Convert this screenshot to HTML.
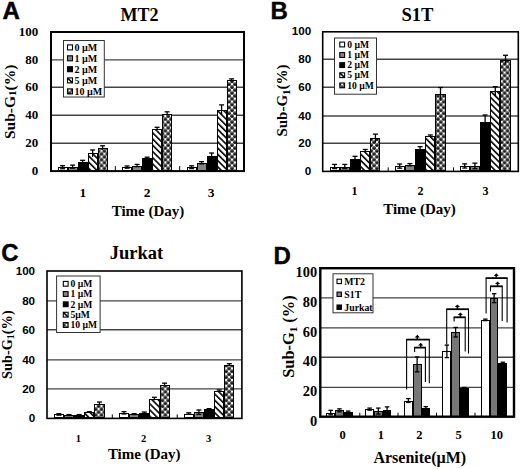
<!DOCTYPE html><html><head><meta charset="utf-8"><style>html,body{margin:0;padding:0;background:#fff;}svg{display:block;}</style></head><body>
<svg width="520" height="469" viewBox="0 0 520 469">
<defs>
<pattern id="hatch" patternUnits="userSpaceOnUse" width="4.4" height="4.4" patternTransform="rotate(-45)">
<rect width="4.4" height="4.4" fill="#fff"/><rect width="1.6" height="4.4" fill="#000"/></pattern>
<linearGradient id="ball" x1="0" y1="0" x2="0" y2="1"><stop offset="0" stop-color="#777"/><stop offset="0.45" stop-color="#333"/><stop offset="0.75" stop-color="#000"/><stop offset="1" stop-color="#111"/></linearGradient>
<pattern id="dots" patternUnits="userSpaceOnUse" width="5.8" height="5.8">
<rect width="5.8" height="5.8" fill="#fff"/>
<circle cx="0" cy="0" r="1.95" fill="url(#ball)"/><circle cx="5.8" cy="0" r="1.95" fill="url(#ball)"/>
<circle cx="0" cy="5.8" r="1.95" fill="url(#ball)"/><circle cx="5.8" cy="5.8" r="1.95" fill="url(#ball)"/>
<circle cx="2.9" cy="2.9" r="1.95" fill="url(#ball)"/>
</pattern>
<pattern id="hatchL" patternUnits="userSpaceOnUse" width="2.6" height="2.6" patternTransform="rotate(-45)">
<rect width="2.6" height="2.6" fill="#fff"/><rect width="1" height="2.6" fill="#000"/></pattern>
</defs>
<rect width="520" height="469" fill="#fff"/>
<line x1="51" y1="143.3" x2="244" y2="143.3" stroke="#444" stroke-width="1.4"/>
<line x1="51" y1="115.2" x2="244" y2="115.2" stroke="#444" stroke-width="1.4"/>
<line x1="51" y1="87.2" x2="244" y2="87.2" stroke="#444" stroke-width="1.4"/>
<line x1="51" y1="59.9" x2="244" y2="59.9" stroke="#444" stroke-width="1.4"/>
<rect x="63.5" y="40.5" width="40.8" height="56.5" fill="#fff" stroke="#333" stroke-width="1" />
<rect x="67.5" y="44.9" width="5" height="5" fill="#fff" stroke="#000" stroke-width="1.1" />
<text x="74.4" y="50.8" font-family='"Liberation Serif", serif' font-size="10" font-weight="bold" text-anchor="start" fill="#000" >0 µM</text>
<rect x="67.5" y="55.8" width="5" height="5" fill="#858585" stroke="#000" stroke-width="1.1" />
<text x="74.4" y="61.7" font-family='"Liberation Serif", serif' font-size="10" font-weight="bold" text-anchor="start" fill="#000" >1 µM</text>
<rect x="67.5" y="66.7" width="5" height="5" fill="#000" stroke="#000" stroke-width="1.1" />
<text x="74.4" y="72.6" font-family='"Liberation Serif", serif' font-size="10" font-weight="bold" text-anchor="start" fill="#000" >2 µM</text>
<rect x="67.5" y="77.9" width="5" height="5" fill="#fff" stroke="#000" stroke-width="1.1" />
<line x1="67.8" y1="78.2" x2="72.2" y2="82.6" stroke="#000" stroke-width="1.6"/>
<text x="74.4" y="83.8" font-family='"Liberation Serif", serif' font-size="10" font-weight="bold" text-anchor="start" fill="#000" >5 µM</text>
<rect x="67.5" y="88.9" width="5" height="5" fill="url(#dots)" stroke="#000" stroke-width="1.1" />
<text x="74.4" y="94.8" font-family='"Liberation Serif", serif' font-size="10" font-weight="bold" text-anchor="start" fill="#000" >10 µM</text>
<rect x="58.5" y="167.5" width="9" height="3" fill="#fff" stroke="#000" stroke-width="1" />
<line x1="62.6" y1="165.68" x2="62.6" y2="168.74" stroke="#000" stroke-width="1.3"/>
<line x1="60.1" y1="165.68" x2="65.1" y2="165.68" stroke="#000" stroke-width="1.3"/>
<line x1="60.1" y1="168.74" x2="65.1" y2="168.74" stroke="#000" stroke-width="1.3"/>
<rect x="68.5" y="167.5" width="9" height="3" fill="#858585" stroke="#000" stroke-width="1" />
<line x1="72.6" y1="165.12" x2="72.6" y2="168.18" stroke="#000" stroke-width="1.3"/>
<line x1="70.1" y1="165.12" x2="75.1" y2="165.12" stroke="#000" stroke-width="1.3"/>
<line x1="70.1" y1="168.18" x2="75.1" y2="168.18" stroke="#000" stroke-width="1.3"/>
<rect x="78.5" y="162.5" width="9" height="8" fill="#000" stroke="#000" stroke-width="1" />
<line x1="82.6" y1="160.32" x2="82.6" y2="163.1" stroke="#000" stroke-width="1.3"/>
<line x1="80.1" y1="160.32" x2="85.1" y2="160.32" stroke="#000" stroke-width="1.3"/>
<line x1="80.1" y1="163.1" x2="85.1" y2="163.1" stroke="#000" stroke-width="1.3"/>
<rect x="88.5" y="153.5" width="9" height="17" fill="url(#hatch)" stroke="#000" stroke-width="1" />
<line x1="92.6" y1="149.96" x2="92.6" y2="156.91" stroke="#000" stroke-width="1.3"/>
<line x1="90.1" y1="149.96" x2="95.1" y2="149.96" stroke="#000" stroke-width="1.3"/>
<rect x="98.5" y="148.5" width="9" height="22" fill="url(#dots)" stroke="#000" stroke-width="1" />
<line x1="102.6" y1="145.78" x2="102.6" y2="149.96" stroke="#000" stroke-width="1.3"/>
<line x1="100.1" y1="145.78" x2="105.1" y2="145.78" stroke="#000" stroke-width="1.3"/>
<rect x="122.5" y="167.5" width="9" height="3" fill="#fff" stroke="#000" stroke-width="1" />
<line x1="127.1" y1="165.95" x2="127.1" y2="168.18" stroke="#000" stroke-width="1.3"/>
<line x1="124.6" y1="165.95" x2="129.6" y2="165.95" stroke="#000" stroke-width="1.3"/>
<line x1="124.6" y1="168.18" x2="129.6" y2="168.18" stroke="#000" stroke-width="1.3"/>
<rect x="132.5" y="166.5" width="9" height="4" fill="#858585" stroke="#000" stroke-width="1" />
<line x1="137.1" y1="164.42" x2="137.1" y2="166.65" stroke="#000" stroke-width="1.3"/>
<line x1="134.6" y1="164.42" x2="139.6" y2="164.42" stroke="#000" stroke-width="1.3"/>
<line x1="134.6" y1="166.65" x2="139.6" y2="166.65" stroke="#000" stroke-width="1.3"/>
<rect x="142.5" y="158.5" width="9" height="12" fill="#000" stroke="#000" stroke-width="1" />
<line x1="147.1" y1="157.19" x2="147.1" y2="159.42" stroke="#000" stroke-width="1.3"/>
<line x1="144.6" y1="157.19" x2="149.6" y2="157.19" stroke="#000" stroke-width="1.3"/>
<line x1="144.6" y1="159.42" x2="149.6" y2="159.42" stroke="#000" stroke-width="1.3"/>
<rect x="152.5" y="129.5" width="9" height="41" fill="url(#hatch)" stroke="#000" stroke-width="1" />
<line x1="157.1" y1="127.28" x2="157.1" y2="130.07" stroke="#000" stroke-width="1.3"/>
<line x1="154.6" y1="127.28" x2="159.6" y2="127.28" stroke="#000" stroke-width="1.3"/>
<rect x="162.5" y="114.5" width="9" height="56" fill="url(#dots)" stroke="#000" stroke-width="1" />
<line x1="167.1" y1="111.84" x2="167.1" y2="115.18" stroke="#000" stroke-width="1.3"/>
<line x1="164.6" y1="111.84" x2="169.6" y2="111.84" stroke="#000" stroke-width="1.3"/>
<rect x="187.5" y="167.5" width="9" height="3" fill="#fff" stroke="#000" stroke-width="1" />
<line x1="191.6" y1="165.81" x2="191.6" y2="168.6" stroke="#000" stroke-width="1.3"/>
<line x1="189.1" y1="165.81" x2="194.1" y2="165.81" stroke="#000" stroke-width="1.3"/>
<line x1="189.1" y1="168.6" x2="194.1" y2="168.6" stroke="#000" stroke-width="1.3"/>
<rect x="197.5" y="163.5" width="9" height="7" fill="#858585" stroke="#000" stroke-width="1" />
<line x1="201.6" y1="161.64" x2="201.6" y2="163.87" stroke="#000" stroke-width="1.3"/>
<line x1="199.1" y1="161.64" x2="204.1" y2="161.64" stroke="#000" stroke-width="1.3"/>
<line x1="199.1" y1="163.87" x2="204.1" y2="163.87" stroke="#000" stroke-width="1.3"/>
<rect x="207.5" y="156.5" width="9" height="14" fill="#000" stroke="#000" stroke-width="1" />
<line x1="211.6" y1="153.02" x2="211.6" y2="159.14" stroke="#000" stroke-width="1.3"/>
<line x1="209.1" y1="153.02" x2="214.1" y2="153.02" stroke="#000" stroke-width="1.3"/>
<line x1="209.1" y1="159.14" x2="214.1" y2="159.14" stroke="#000" stroke-width="1.3"/>
<rect x="217.5" y="110.5" width="9" height="60" fill="url(#hatch)" stroke="#000" stroke-width="1" />
<line x1="221.6" y1="104.89" x2="221.6" y2="114.63" stroke="#000" stroke-width="1.3"/>
<line x1="219.1" y1="104.89" x2="224.1" y2="104.89" stroke="#000" stroke-width="1.3"/>
<rect x="227.5" y="80.5" width="9" height="90" fill="url(#dots)" stroke="#000" stroke-width="1" />
<line x1="231.6" y1="78.88" x2="231.6" y2="81.1" stroke="#000" stroke-width="1.3"/>
<line x1="229.1" y1="78.88" x2="234.1" y2="78.88" stroke="#000" stroke-width="1.3"/>
<line x1="115.3" y1="171.1" x2="115.3" y2="166.1" stroke="#000" stroke-width="1"/>
<line x1="179.7" y1="171.1" x2="179.7" y2="166.1" stroke="#000" stroke-width="1"/>
<rect x="51" y="32" width="193" height="139.1" fill="none" stroke="#000" stroke-width="2"/>
<text transform="translate(38.2,175.2) scale(1.0,1)" font-family='"Liberation Serif", serif' font-size="13" font-weight="bold" text-anchor="end">0</text>
<text transform="translate(38.2,147.4) scale(1.0,1)" font-family='"Liberation Serif", serif' font-size="13" font-weight="bold" text-anchor="end">20</text>
<text transform="translate(38.2,119.3) scale(1.0,1)" font-family='"Liberation Serif", serif' font-size="13" font-weight="bold" text-anchor="end">40</text>
<text transform="translate(38.2,91.3) scale(1.0,1)" font-family='"Liberation Serif", serif' font-size="13" font-weight="bold" text-anchor="end">60</text>
<text transform="translate(38.2,64) scale(1.0,1)" font-family='"Liberation Serif", serif' font-size="13" font-weight="bold" text-anchor="end">80</text>
<text transform="translate(38.2,36.1) scale(1.0,1)" font-family='"Liberation Serif", serif' font-size="13" font-weight="bold" text-anchor="end">100</text>
<text x="82.9" y="196.7" font-family='"Liberation Serif", serif' font-size="13.5" font-weight="bold" text-anchor="middle" fill="#000" >1</text>
<text x="147" y="196.7" font-family='"Liberation Serif", serif' font-size="13.5" font-weight="bold" text-anchor="middle" fill="#000" >2</text>
<text x="211.2" y="196.7" font-family='"Liberation Serif", serif' font-size="13.5" font-weight="bold" text-anchor="middle" fill="#000" >3</text>
<text x="2.5" y="18.8" font-family='"Liberation Sans", sans-serif' font-size="24" font-weight="bold" text-anchor="start" fill="#000" stroke="#000" stroke-width="0.5">A</text>
<text x="139.4" y="20.5" font-family='"Liberation Serif", serif' font-size="18" font-weight="bold" text-anchor="middle" fill="#000" >MT2</text>
<text x="148" y="215.6" font-family='"Liberation Serif", serif' font-size="15" font-weight="bold" text-anchor="middle" fill="#000" >Time (Day)</text>
<text transform="translate(15.1,101.9) rotate(-90)" font-family='"Liberation Serif", serif' font-size="15.5" font-weight="bold" text-anchor="middle">Sub-G<tspan font-size="11" dy="1">1</tspan><tspan dy="-1">(%)</tspan></text>
<line x1="322.7" y1="143.2" x2="518.3" y2="143.2" stroke="#444" stroke-width="1.4"/>
<line x1="322.7" y1="116" x2="518.3" y2="116" stroke="#444" stroke-width="1.4"/>
<line x1="322.7" y1="87.2" x2="518.3" y2="87.2" stroke="#444" stroke-width="1.4"/>
<line x1="322.7" y1="59.2" x2="518.3" y2="59.2" stroke="#444" stroke-width="1.4"/>
<rect x="334.5" y="38" width="42" height="56.2" fill="#fff" stroke="#333" stroke-width="1" />
<rect x="339.8" y="42.1" width="4.8" height="4.8" fill="#fff" stroke="#000" stroke-width="1.1" />
<text x="347.3" y="47.76" font-family='"Liberation Serif", serif' font-size="9.6" font-weight="bold" text-anchor="start" fill="#000" >0 µM</text>
<rect x="339.8" y="52.6" width="4.8" height="4.8" fill="#858585" stroke="#000" stroke-width="1.1" />
<text x="347.3" y="58.26" font-family='"Liberation Serif", serif' font-size="9.6" font-weight="bold" text-anchor="start" fill="#000" >1 µM</text>
<rect x="339.8" y="62.7" width="4.8" height="4.8" fill="#000" stroke="#000" stroke-width="1.1" />
<text x="347.3" y="68.36" font-family='"Liberation Serif", serif' font-size="9.6" font-weight="bold" text-anchor="start" fill="#000" >2 µM</text>
<rect x="339.8" y="72.8" width="4.8" height="4.8" fill="#fff" stroke="#000" stroke-width="1.1" />
<line x1="340.1" y1="73.1" x2="344.3" y2="77.3" stroke="#000" stroke-width="1.6"/>
<text x="347.3" y="78.46" font-family='"Liberation Serif", serif' font-size="9.6" font-weight="bold" text-anchor="start" fill="#000" >5 µM</text>
<rect x="339.8" y="83" width="4.8" height="4.8" fill="url(#dots)" stroke="#000" stroke-width="1.1" />
<text x="347.3" y="88.66" font-family='"Liberation Serif", serif' font-size="9.6" font-weight="bold" text-anchor="start" fill="#000" >10 µM</text>
<rect x="330.5" y="167.5" width="9" height="3" fill="#fff" stroke="#000" stroke-width="1" />
<line x1="334.6" y1="164.42" x2="334.6" y2="168.61" stroke="#000" stroke-width="1.3"/>
<line x1="332.1" y1="164.42" x2="337.1" y2="164.42" stroke="#000" stroke-width="1.3"/>
<line x1="332.1" y1="168.61" x2="337.1" y2="168.61" stroke="#000" stroke-width="1.3"/>
<rect x="340.5" y="167.5" width="9" height="3" fill="#858585" stroke="#000" stroke-width="1" />
<line x1="344.8" y1="164.42" x2="344.8" y2="168.61" stroke="#000" stroke-width="1.3"/>
<line x1="342.3" y1="164.42" x2="347.3" y2="164.42" stroke="#000" stroke-width="1.3"/>
<line x1="342.3" y1="168.61" x2="347.3" y2="168.61" stroke="#000" stroke-width="1.3"/>
<rect x="350.5" y="159.5" width="9" height="11" fill="#000" stroke="#000" stroke-width="1" />
<line x1="355" y1="156.32" x2="355" y2="161.91" stroke="#000" stroke-width="1.3"/>
<line x1="352.5" y1="156.32" x2="357.5" y2="156.32" stroke="#000" stroke-width="1.3"/>
<line x1="352.5" y1="161.91" x2="357.5" y2="161.91" stroke="#000" stroke-width="1.3"/>
<rect x="360.5" y="151.5" width="9" height="19" fill="url(#hatch)" stroke="#000" stroke-width="1" />
<line x1="365.2" y1="149.48" x2="365.2" y2="152.27" stroke="#000" stroke-width="1.3"/>
<line x1="362.7" y1="149.48" x2="367.7" y2="149.48" stroke="#000" stroke-width="1.3"/>
<rect x="370.5" y="138.5" width="9" height="32" fill="url(#dots)" stroke="#000" stroke-width="1" />
<line x1="375.4" y1="134.13" x2="375.4" y2="142.5" stroke="#000" stroke-width="1.3"/>
<line x1="372.9" y1="134.13" x2="377.9" y2="134.13" stroke="#000" stroke-width="1.3"/>
<rect x="395.5" y="166.5" width="9" height="4" fill="#fff" stroke="#000" stroke-width="1" />
<line x1="399.7" y1="164" x2="399.7" y2="168.19" stroke="#000" stroke-width="1.3"/>
<line x1="397.2" y1="164" x2="402.2" y2="164" stroke="#000" stroke-width="1.3"/>
<line x1="397.2" y1="168.19" x2="402.2" y2="168.19" stroke="#000" stroke-width="1.3"/>
<rect x="405.5" y="165.5" width="9" height="5" fill="#858585" stroke="#000" stroke-width="1" />
<line x1="409.9" y1="163.58" x2="409.9" y2="165.82" stroke="#000" stroke-width="1.3"/>
<line x1="407.4" y1="163.58" x2="412.4" y2="163.58" stroke="#000" stroke-width="1.3"/>
<line x1="407.4" y1="165.82" x2="412.4" y2="165.82" stroke="#000" stroke-width="1.3"/>
<rect x="415.5" y="149.5" width="9" height="21" fill="#000" stroke="#000" stroke-width="1" />
<line x1="420.1" y1="146.69" x2="420.1" y2="150.88" stroke="#000" stroke-width="1.3"/>
<line x1="417.6" y1="146.69" x2="422.6" y2="146.69" stroke="#000" stroke-width="1.3"/>
<line x1="417.6" y1="150.88" x2="422.6" y2="150.88" stroke="#000" stroke-width="1.3"/>
<rect x="425.5" y="136.5" width="9" height="34" fill="url(#hatch)" stroke="#000" stroke-width="1" />
<line x1="430.3" y1="134.96" x2="430.3" y2="136.36" stroke="#000" stroke-width="1.3"/>
<line x1="427.8" y1="134.96" x2="432.8" y2="134.96" stroke="#000" stroke-width="1.3"/>
<rect x="435.5" y="94.5" width="10" height="76" fill="url(#dots)" stroke="#000" stroke-width="1" />
<line x1="440.5" y1="87.5" x2="440.5" y2="100.62" stroke="#000" stroke-width="1.3"/>
<line x1="438" y1="87.5" x2="443" y2="87.5" stroke="#000" stroke-width="1.3"/>
<rect x="460.5" y="166.5" width="9" height="4" fill="#fff" stroke="#000" stroke-width="1" />
<line x1="464.7" y1="163.86" x2="464.7" y2="168.05" stroke="#000" stroke-width="1.3"/>
<line x1="462.2" y1="163.86" x2="467.2" y2="163.86" stroke="#000" stroke-width="1.3"/>
<line x1="462.2" y1="168.05" x2="467.2" y2="168.05" stroke="#000" stroke-width="1.3"/>
<rect x="470.5" y="166.5" width="9" height="4" fill="#858585" stroke="#000" stroke-width="1" />
<line x1="474.9" y1="163.16" x2="474.9" y2="168.75" stroke="#000" stroke-width="1.3"/>
<line x1="472.4" y1="163.16" x2="477.4" y2="163.16" stroke="#000" stroke-width="1.3"/>
<line x1="472.4" y1="168.75" x2="477.4" y2="168.75" stroke="#000" stroke-width="1.3"/>
<rect x="480.5" y="122.5" width="9" height="48" fill="#000" stroke="#000" stroke-width="1" />
<line x1="485.1" y1="115" x2="485.1" y2="129.52" stroke="#000" stroke-width="1.3"/>
<line x1="482.6" y1="115" x2="487.6" y2="115" stroke="#000" stroke-width="1.3"/>
<line x1="482.6" y1="129.52" x2="487.6" y2="129.52" stroke="#000" stroke-width="1.3"/>
<rect x="490.5" y="91.5" width="9" height="79" fill="url(#hatch)" stroke="#000" stroke-width="1" />
<line x1="495.3" y1="86.66" x2="495.3" y2="96.16" stroke="#000" stroke-width="1.3"/>
<line x1="492.8" y1="86.66" x2="497.8" y2="86.66" stroke="#000" stroke-width="1.3"/>
<rect x="500.5" y="60.5" width="10" height="110" fill="url(#dots)" stroke="#000" stroke-width="1" />
<line x1="505.5" y1="55.25" x2="505.5" y2="64.19" stroke="#000" stroke-width="1.3"/>
<line x1="503" y1="55.25" x2="508" y2="55.25" stroke="#000" stroke-width="1.3"/>
<line x1="388.2" y1="171.4" x2="388.2" y2="167.4" stroke="#000" stroke-width="1"/>
<line x1="453.5" y1="171.4" x2="453.5" y2="167.4" stroke="#000" stroke-width="1"/>
<rect x="322.7" y="31.8" width="195.6" height="139.6" fill="none" stroke="#000" stroke-width="1.6"/>
<text transform="translate(311.2,174.9) scale(1.1,1)" font-family='"Liberation Sans", sans-serif' font-size="10.6" font-weight="bold" text-anchor="end">0</text>
<text transform="translate(311.2,146.7) scale(1.1,1)" font-family='"Liberation Sans", sans-serif' font-size="10.6" font-weight="bold" text-anchor="end">20</text>
<text transform="translate(311.2,119.5) scale(1.1,1)" font-family='"Liberation Sans", sans-serif' font-size="10.6" font-weight="bold" text-anchor="end">40</text>
<text transform="translate(311.2,90.7) scale(1.1,1)" font-family='"Liberation Sans", sans-serif' font-size="10.6" font-weight="bold" text-anchor="end">60</text>
<text transform="translate(311.2,62.7) scale(1.1,1)" font-family='"Liberation Sans", sans-serif' font-size="10.6" font-weight="bold" text-anchor="end">80</text>
<text transform="translate(311.2,35.3) scale(1.1,1)" font-family='"Liberation Sans", sans-serif' font-size="10.6" font-weight="bold" text-anchor="end">100</text>
<text x="354.6" y="195.3" font-family='"Liberation Serif", serif' font-size="12" font-weight="bold" text-anchor="middle" fill="#000" >1</text>
<text x="420.6" y="195.3" font-family='"Liberation Serif", serif' font-size="12" font-weight="bold" text-anchor="middle" fill="#000" >2</text>
<text x="485.6" y="195.3" font-family='"Liberation Serif", serif' font-size="12" font-weight="bold" text-anchor="middle" fill="#000" >3</text>
<text x="270.4" y="18.8" font-family='"Liberation Sans", sans-serif' font-size="24" font-weight="bold" text-anchor="start" fill="#000" stroke="#000" stroke-width="0.4">B</text>
<text x="417.4" y="20.8" font-family='"Liberation Serif", serif' font-size="18.6" font-weight="bold" text-anchor="middle" fill="#000" >S1T</text>
<text x="419.5" y="214" font-family='"Liberation Serif", serif' font-size="15" font-weight="bold" text-anchor="middle" fill="#000" >Time (Day)</text>
<text transform="translate(287,100.5) rotate(-90)" font-family='"Liberation Serif", serif' font-size="15" font-weight="bold" text-anchor="middle">Sub-G<tspan font-size="11" dy="2.5">1</tspan><tspan dy="-2.5">(%)</tspan></text>
<line x1="47" y1="388.9" x2="241.9" y2="388.9" stroke="#444" stroke-width="1.4"/>
<line x1="47" y1="359.9" x2="241.9" y2="359.9" stroke="#444" stroke-width="1.4"/>
<line x1="47" y1="329.8" x2="241.9" y2="329.8" stroke="#444" stroke-width="1.4"/>
<line x1="47" y1="300.9" x2="241.9" y2="300.9" stroke="#444" stroke-width="1.4"/>
<rect x="56.6" y="276" width="43.5" height="56.5" fill="#fff" stroke="#333" stroke-width="1" />
<rect x="63.3" y="281.4" width="4.8" height="4.8" fill="#fff" stroke="#000" stroke-width="1.1" />
<text x="70.5" y="287.06" font-family='"Liberation Serif", serif' font-size="9.6" font-weight="bold" text-anchor="start" fill="#000" >0 µM</text>
<rect x="63.3" y="291.6" width="4.8" height="4.8" fill="#858585" stroke="#000" stroke-width="1.1" />
<text x="70.5" y="297.26" font-family='"Liberation Serif", serif' font-size="9.6" font-weight="bold" text-anchor="start" fill="#000" >1 µM</text>
<rect x="63.3" y="301.9" width="4.8" height="4.8" fill="#000" stroke="#000" stroke-width="1.1" />
<text x="70.5" y="307.56" font-family='"Liberation Serif", serif' font-size="9.6" font-weight="bold" text-anchor="start" fill="#000" >2 µM</text>
<rect x="63.3" y="312.3" width="4.8" height="4.8" fill="#fff" stroke="#000" stroke-width="1.1" />
<line x1="63.6" y1="312.6" x2="67.8" y2="316.8" stroke="#000" stroke-width="1.6"/>
<text x="70.5" y="317.96" font-family='"Liberation Serif", serif' font-size="9.6" font-weight="bold" text-anchor="start" fill="#000" >5µM</text>
<rect x="63.3" y="322.6" width="4.8" height="4.8" fill="url(#dots)" stroke="#000" stroke-width="1.1" />
<text x="70.5" y="328.26" font-family='"Liberation Serif", serif' font-size="9.6" font-weight="bold" text-anchor="start" fill="#000" >10 µM</text>
<rect x="54.5" y="414.5" width="9" height="3" fill="#fff" stroke="#000" stroke-width="1" />
<line x1="58.88" y1="413.68" x2="58.88" y2="415.16" stroke="#000" stroke-width="1.3"/>
<line x1="56.38" y1="413.68" x2="61.38" y2="413.68" stroke="#000" stroke-width="1.3"/>
<line x1="56.38" y1="415.16" x2="61.38" y2="415.16" stroke="#000" stroke-width="1.3"/>
<rect x="64.5" y="415.5" width="9" height="2" fill="#858585" stroke="#000" stroke-width="1" />
<line x1="69.02" y1="414.57" x2="69.02" y2="415.45" stroke="#000" stroke-width="1.3"/>
<line x1="66.52" y1="414.57" x2="71.52" y2="414.57" stroke="#000" stroke-width="1.3"/>
<line x1="66.52" y1="415.45" x2="71.52" y2="415.45" stroke="#000" stroke-width="1.3"/>
<rect x="74.5" y="415.5" width="9" height="2" fill="#000" stroke="#000" stroke-width="1" />
<line x1="79.17" y1="414.57" x2="79.17" y2="415.45" stroke="#000" stroke-width="1.3"/>
<line x1="76.67" y1="414.57" x2="81.67" y2="414.57" stroke="#000" stroke-width="1.3"/>
<line x1="76.67" y1="415.45" x2="81.67" y2="415.45" stroke="#000" stroke-width="1.3"/>
<rect x="84.5" y="412.5" width="9" height="5" fill="url(#hatch)" stroke="#000" stroke-width="1" />
<line x1="89.33" y1="411.62" x2="89.33" y2="413.09" stroke="#000" stroke-width="1.3"/>
<line x1="86.83" y1="411.62" x2="91.83" y2="411.62" stroke="#000" stroke-width="1.3"/>
<rect x="94.5" y="404.5" width="10" height="13" fill="url(#dots)" stroke="#000" stroke-width="1" />
<line x1="99.48" y1="402.04" x2="99.48" y2="404.99" stroke="#000" stroke-width="1.3"/>
<line x1="96.98" y1="402.04" x2="101.98" y2="402.04" stroke="#000" stroke-width="1.3"/>
<rect x="119.5" y="413.5" width="9" height="4" fill="#fff" stroke="#000" stroke-width="1" />
<line x1="123.98" y1="411.62" x2="123.98" y2="413.98" stroke="#000" stroke-width="1.3"/>
<line x1="121.48" y1="411.62" x2="126.48" y2="411.62" stroke="#000" stroke-width="1.3"/>
<line x1="121.48" y1="413.98" x2="126.48" y2="413.98" stroke="#000" stroke-width="1.3"/>
<rect x="129.5" y="414.5" width="9" height="3" fill="#858585" stroke="#000" stroke-width="1" />
<line x1="134.12" y1="413.68" x2="134.12" y2="414.57" stroke="#000" stroke-width="1.3"/>
<line x1="131.62" y1="413.68" x2="136.62" y2="413.68" stroke="#000" stroke-width="1.3"/>
<line x1="131.62" y1="414.57" x2="136.62" y2="414.57" stroke="#000" stroke-width="1.3"/>
<rect x="139.5" y="413.5" width="9" height="4" fill="#000" stroke="#000" stroke-width="1" />
<line x1="144.28" y1="412.06" x2="144.28" y2="413.54" stroke="#000" stroke-width="1.3"/>
<line x1="141.78" y1="412.06" x2="146.78" y2="412.06" stroke="#000" stroke-width="1.3"/>
<line x1="141.78" y1="413.54" x2="146.78" y2="413.54" stroke="#000" stroke-width="1.3"/>
<rect x="149.5" y="399.5" width="10" height="18" fill="url(#hatch)" stroke="#000" stroke-width="1" />
<line x1="154.43" y1="397.32" x2="154.43" y2="400.27" stroke="#000" stroke-width="1.3"/>
<line x1="151.93" y1="397.32" x2="156.93" y2="397.32" stroke="#000" stroke-width="1.3"/>
<rect x="160.5" y="385.5" width="9" height="32" fill="url(#dots)" stroke="#000" stroke-width="1" />
<line x1="164.57" y1="383.17" x2="164.57" y2="386.12" stroke="#000" stroke-width="1.3"/>
<line x1="162.07" y1="383.17" x2="167.07" y2="383.17" stroke="#000" stroke-width="1.3"/>
<rect x="184.5" y="414.5" width="9" height="3" fill="#fff" stroke="#000" stroke-width="1" />
<line x1="188.77" y1="412.8" x2="188.77" y2="414.27" stroke="#000" stroke-width="1.3"/>
<line x1="186.27" y1="412.8" x2="191.27" y2="412.8" stroke="#000" stroke-width="1.3"/>
<line x1="186.27" y1="414.27" x2="191.27" y2="414.27" stroke="#000" stroke-width="1.3"/>
<rect x="194.5" y="412.5" width="9" height="5" fill="#858585" stroke="#000" stroke-width="1" />
<line x1="198.92" y1="410" x2="198.92" y2="414.42" stroke="#000" stroke-width="1.3"/>
<line x1="196.42" y1="410" x2="201.42" y2="410" stroke="#000" stroke-width="1.3"/>
<line x1="196.42" y1="414.42" x2="201.42" y2="414.42" stroke="#000" stroke-width="1.3"/>
<rect x="204.5" y="409.5" width="9" height="8" fill="#000" stroke="#000" stroke-width="1" />
<line x1="209.07" y1="408.67" x2="209.07" y2="410.15" stroke="#000" stroke-width="1.3"/>
<line x1="206.57" y1="408.67" x2="211.57" y2="408.67" stroke="#000" stroke-width="1.3"/>
<line x1="206.57" y1="410.15" x2="211.57" y2="410.15" stroke="#000" stroke-width="1.3"/>
<rect x="214.5" y="391.5" width="9" height="26" fill="url(#hatch)" stroke="#000" stroke-width="1" />
<line x1="219.22" y1="389.95" x2="219.22" y2="392.02" stroke="#000" stroke-width="1.3"/>
<line x1="216.72" y1="389.95" x2="221.72" y2="389.95" stroke="#000" stroke-width="1.3"/>
<rect x="224.5" y="365.5" width="9" height="52" fill="url(#dots)" stroke="#000" stroke-width="1" />
<line x1="229.37" y1="363.71" x2="229.37" y2="365.78" stroke="#000" stroke-width="1.3"/>
<line x1="226.87" y1="363.71" x2="231.87" y2="363.71" stroke="#000" stroke-width="1.3"/>
<line x1="112.3" y1="418.4" x2="112.3" y2="414.4" stroke="#000" stroke-width="1"/>
<line x1="177.2" y1="418.4" x2="177.2" y2="414.4" stroke="#000" stroke-width="1"/>
<rect x="47" y="271" width="194.9" height="147.4" fill="none" stroke="#000" stroke-width="1.6"/>
<text transform="translate(35.1,422.2) scale(1.1,1)" font-family='"Liberation Sans", sans-serif' font-size="10.6" font-weight="bold" text-anchor="end">0</text>
<text transform="translate(35.1,392.7) scale(1.1,1)" font-family='"Liberation Sans", sans-serif' font-size="10.6" font-weight="bold" text-anchor="end">20</text>
<text transform="translate(35.1,363.7) scale(1.1,1)" font-family='"Liberation Sans", sans-serif' font-size="10.6" font-weight="bold" text-anchor="end">40</text>
<text transform="translate(35.1,333.6) scale(1.1,1)" font-family='"Liberation Sans", sans-serif' font-size="10.6" font-weight="bold" text-anchor="end">60</text>
<text transform="translate(35.1,304.7) scale(1.1,1)" font-family='"Liberation Sans", sans-serif' font-size="10.6" font-weight="bold" text-anchor="end">80</text>
<text transform="translate(35.1,274.8) scale(1.1,1)" font-family='"Liberation Sans", sans-serif' font-size="10.6" font-weight="bold" text-anchor="end">100</text>
<text x="78.3" y="441.9" font-family='"Liberation Serif", serif' font-size="10.5" font-weight="bold" text-anchor="middle" fill="#000" >1</text>
<text x="143.6" y="441.9" font-family='"Liberation Serif", serif' font-size="10.5" font-weight="bold" text-anchor="middle" fill="#000" >2</text>
<text x="208.7" y="441.9" font-family='"Liberation Serif", serif' font-size="10.5" font-weight="bold" text-anchor="middle" fill="#000" >3</text>
<text x="1.3" y="261.2" font-family='"Liberation Sans", sans-serif' font-size="24" font-weight="bold" text-anchor="start" fill="#000" stroke="#000" stroke-width="0.4">C</text>
<text x="136.5" y="259.3" font-family='"Liberation Serif", serif' font-size="18.5" font-weight="bold" text-anchor="middle" fill="#000" >Jurkat</text>
<text x="144.2" y="458.7" font-family='"Liberation Serif", serif' font-size="15" font-weight="bold" text-anchor="middle" fill="#000" >Time (Day)</text>
<text transform="translate(11.8,344.6) rotate(-90)" font-family='"Liberation Serif", serif' font-size="14.3" font-weight="bold" text-anchor="middle">Sub-G<tspan font-size="10" dy="2.5">1</tspan><tspan dy="-2.5">(%)</tspan></text>
<line x1="320.3" y1="387.4" x2="514" y2="387.4" stroke="#444" stroke-width="1.4"/>
<line x1="320.3" y1="357.2" x2="514" y2="357.2" stroke="#444" stroke-width="1.4"/>
<line x1="320.3" y1="327.9" x2="514" y2="327.9" stroke="#444" stroke-width="1.4"/>
<line x1="320.3" y1="297.9" x2="514" y2="297.9" stroke="#444" stroke-width="1.4"/>
<rect x="333" y="273.8" width="40" height="39" fill="#fff" stroke="#333" stroke-width="1" />
<rect x="337" y="279.2" width="4.4" height="4.4" fill="#fff" stroke="#000" stroke-width="1.1" />
<text x="344.3" y="284.73" font-family='"Liberation Serif", serif' font-size="9.8" font-weight="bold" text-anchor="start" fill="#000" >MT2</text>
<rect x="337" y="292.1" width="4.4" height="4.4" fill="#858585" stroke="#000" stroke-width="1.1" />
<text x="344.3" y="297.63" font-family='"Liberation Serif", serif' font-size="9.8" font-weight="bold" text-anchor="start" fill="#000" >S1T</text>
<rect x="337" y="305" width="4.4" height="4.4" fill="#000" stroke="#000" stroke-width="1.1" />
<text x="344.3" y="310.53" font-family='"Liberation Serif", serif' font-size="9.8" font-weight="bold" text-anchor="start" fill="#000" >Jurkat</text>
<rect x="326.5" y="413.5" width="8" height="3" fill="#fff" stroke="#000" stroke-width="1" />
<line x1="330.68" y1="410.31" x2="330.68" y2="414.77" stroke="#000" stroke-width="1.3"/>
<line x1="328.43" y1="410.31" x2="332.93" y2="410.31" stroke="#000" stroke-width="1.3"/>
<line x1="328.43" y1="414.77" x2="332.93" y2="414.77" stroke="#000" stroke-width="1.3"/>
<rect x="335.5" y="410.5" width="8" height="6" fill="#777" stroke="#000" stroke-width="1" />
<line x1="339.43" y1="408.83" x2="339.43" y2="411.8" stroke="#000" stroke-width="1.3"/>
<line x1="337.18" y1="408.83" x2="341.68" y2="408.83" stroke="#000" stroke-width="1.3"/>
<line x1="337.18" y1="411.8" x2="341.68" y2="411.8" stroke="#000" stroke-width="1.3"/>
<rect x="344.5" y="412.5" width="8" height="4" fill="#000" stroke="#000" stroke-width="1" />
<line x1="348.18" y1="411.06" x2="348.18" y2="412.54" stroke="#000" stroke-width="1.3"/>
<line x1="345.93" y1="411.06" x2="350.43" y2="411.06" stroke="#000" stroke-width="1.3"/>
<line x1="345.93" y1="412.54" x2="350.43" y2="412.54" stroke="#000" stroke-width="1.3"/>
<rect x="365.5" y="409.5" width="8" height="7" fill="#fff" stroke="#000" stroke-width="1" />
<line x1="369.57" y1="408.09" x2="369.57" y2="410.17" stroke="#000" stroke-width="1.3"/>
<line x1="367.32" y1="408.09" x2="371.82" y2="408.09" stroke="#000" stroke-width="1.3"/>
<line x1="367.32" y1="410.17" x2="371.82" y2="410.17" stroke="#000" stroke-width="1.3"/>
<rect x="374.5" y="411.5" width="8" height="5" fill="#777" stroke="#000" stroke-width="1" />
<line x1="378.32" y1="408.09" x2="378.32" y2="414.03" stroke="#000" stroke-width="1.3"/>
<line x1="376.07" y1="408.09" x2="380.57" y2="408.09" stroke="#000" stroke-width="1.3"/>
<line x1="376.07" y1="414.03" x2="380.57" y2="414.03" stroke="#000" stroke-width="1.3"/>
<rect x="383.5" y="410.5" width="7" height="6" fill="#000" stroke="#000" stroke-width="1" />
<line x1="387.07" y1="406.9" x2="387.07" y2="412.84" stroke="#000" stroke-width="1.3"/>
<line x1="384.82" y1="406.9" x2="389.32" y2="406.9" stroke="#000" stroke-width="1.3"/>
<line x1="384.82" y1="412.84" x2="389.32" y2="412.84" stroke="#000" stroke-width="1.3"/>
<rect x="404.5" y="401.5" width="8" height="15" fill="#fff" stroke="#000" stroke-width="1" />
<line x1="408.38" y1="398.58" x2="408.38" y2="402.44" stroke="#000" stroke-width="1.3"/>
<line x1="406.12" y1="398.58" x2="410.62" y2="398.58" stroke="#000" stroke-width="1.3"/>
<line x1="406.12" y1="402.44" x2="410.62" y2="402.44" stroke="#000" stroke-width="1.3"/>
<rect x="413.5" y="364.5" width="8" height="52" fill="#777" stroke="#000" stroke-width="1" />
<line x1="417.12" y1="357" x2="417.12" y2="371.85" stroke="#000" stroke-width="1.3"/>
<line x1="414.88" y1="357" x2="419.38" y2="357" stroke="#000" stroke-width="1.3"/>
<line x1="414.88" y1="371.85" x2="419.38" y2="371.85" stroke="#000" stroke-width="1.3"/>
<rect x="422.5" y="408.5" width="7" height="8" fill="#000" stroke="#000" stroke-width="1" />
<line x1="425.88" y1="406.6" x2="425.88" y2="410.17" stroke="#000" stroke-width="1.3"/>
<line x1="423.62" y1="406.6" x2="428.12" y2="406.6" stroke="#000" stroke-width="1.3"/>
<line x1="423.62" y1="410.17" x2="428.12" y2="410.17" stroke="#000" stroke-width="1.3"/>
<rect x="442.5" y="351.5" width="8" height="65" fill="#fff" stroke="#000" stroke-width="1" />
<line x1="446.88" y1="345.12" x2="446.88" y2="357.6" stroke="#000" stroke-width="1.3"/>
<line x1="444.62" y1="345.12" x2="449.12" y2="345.12" stroke="#000" stroke-width="1.3"/>
<line x1="444.62" y1="357.6" x2="449.12" y2="357.6" stroke="#000" stroke-width="1.3"/>
<rect x="451.5" y="332.5" width="8" height="84" fill="#777" stroke="#000" stroke-width="1" />
<line x1="455.62" y1="327.45" x2="455.62" y2="336.96" stroke="#000" stroke-width="1.3"/>
<line x1="453.38" y1="327.45" x2="457.88" y2="327.45" stroke="#000" stroke-width="1.3"/>
<line x1="453.38" y1="336.96" x2="457.88" y2="336.96" stroke="#000" stroke-width="1.3"/>
<rect x="460.5" y="388.5" width="8" height="28" fill="#000" stroke="#000" stroke-width="1" />
<line x1="464.38" y1="387.45" x2="464.38" y2="388.93" stroke="#000" stroke-width="1.3"/>
<line x1="462.12" y1="387.45" x2="466.62" y2="387.45" stroke="#000" stroke-width="1.3"/>
<line x1="462.12" y1="388.93" x2="466.62" y2="388.93" stroke="#000" stroke-width="1.3"/>
<rect x="481.5" y="320.5" width="8" height="96" fill="#fff" stroke="#000" stroke-width="1" />
<line x1="485.38" y1="319.14" x2="485.38" y2="320.62" stroke="#000" stroke-width="1.3"/>
<line x1="483.12" y1="319.14" x2="487.62" y2="319.14" stroke="#000" stroke-width="1.3"/>
<line x1="483.12" y1="320.62" x2="487.62" y2="320.62" stroke="#000" stroke-width="1.3"/>
<rect x="490.5" y="298.5" width="7" height="118" fill="#777" stroke="#000" stroke-width="1" />
<line x1="494.12" y1="293.74" x2="494.12" y2="302.65" stroke="#000" stroke-width="1.3"/>
<line x1="491.88" y1="293.74" x2="496.38" y2="293.74" stroke="#000" stroke-width="1.3"/>
<line x1="491.88" y1="302.65" x2="496.38" y2="302.65" stroke="#000" stroke-width="1.3"/>
<rect x="498.5" y="363.5" width="8" height="53" fill="#000" stroke="#000" stroke-width="1" />
<line x1="502.88" y1="362.2" x2="502.88" y2="363.69" stroke="#000" stroke-width="1.3"/>
<line x1="500.62" y1="362.2" x2="505.12" y2="362.2" stroke="#000" stroke-width="1.3"/>
<line x1="500.62" y1="363.69" x2="505.12" y2="363.69" stroke="#000" stroke-width="1.3"/>
<line x1="359.8" y1="416.7" x2="359.8" y2="412.7" stroke="#000" stroke-width="1"/>
<line x1="398" y1="416.7" x2="398" y2="412.7" stroke="#000" stroke-width="1"/>
<line x1="436.5" y1="416.7" x2="436.5" y2="412.7" stroke="#000" stroke-width="1"/>
<line x1="475" y1="416.7" x2="475" y2="412.7" stroke="#000" stroke-width="1"/>
<rect x="320.3" y="268.2" width="193.7" height="148.5" fill="none" stroke="#000" stroke-width="2.4"/>
<text transform="translate(317.2,425.5) scale(1.03,1)" font-family='"Liberation Serif", serif' font-size="14" font-weight="bold" text-anchor="end">0</text>
<text transform="translate(317.2,396.2) scale(1.03,1)" font-family='"Liberation Serif", serif' font-size="14" font-weight="bold" text-anchor="end">20</text>
<text transform="translate(317.2,366) scale(1.03,1)" font-family='"Liberation Serif", serif' font-size="14" font-weight="bold" text-anchor="end">40</text>
<text transform="translate(317.2,336.7) scale(1.03,1)" font-family='"Liberation Serif", serif' font-size="14" font-weight="bold" text-anchor="end">60</text>
<text transform="translate(317.2,306.7) scale(1.03,1)" font-family='"Liberation Serif", serif' font-size="14" font-weight="bold" text-anchor="end">80</text>
<text transform="translate(317.2,277) scale(1.03,1)" font-family='"Liberation Serif", serif' font-size="14" font-weight="bold" text-anchor="end">100</text>
<text x="342.6" y="438.8" font-family='"Liberation Serif", serif' font-size="12.5" font-weight="bold" text-anchor="middle" fill="#000" >0</text>
<text x="380.8" y="438.8" font-family='"Liberation Serif", serif' font-size="12.5" font-weight="bold" text-anchor="middle" fill="#000" >1</text>
<text x="419.4" y="438.8" font-family='"Liberation Serif", serif' font-size="12.5" font-weight="bold" text-anchor="middle" fill="#000" >2</text>
<text x="458.5" y="438.8" font-family='"Liberation Serif", serif' font-size="12.5" font-weight="bold" text-anchor="middle" fill="#000" >5</text>
<text x="496.8" y="438.8" font-family='"Liberation Serif", serif' font-size="12.5" font-weight="bold" text-anchor="middle" fill="#000" >10</text>
<text x="273.4" y="264.2" font-family='"Liberation Sans", sans-serif' font-size="24" font-weight="bold" text-anchor="start" fill="#000" stroke="#000" stroke-width="0.4">D</text>
<text x="419.8" y="463.3" font-family='"Liberation Serif", serif' font-size="16" font-weight="bold" text-anchor="middle" fill="#000" >Arsenite(µM)</text>
<text transform="translate(294.4,336.6) rotate(-90)" font-family='"Liberation Serif", serif' font-size="16.4" font-weight="bold" text-anchor="middle">Sub-G<tspan font-size="11" dy="3">1</tspan><tspan dy="-3"> (%)</tspan></text>
<line x1="406.6" y1="339.6" x2="406.6" y2="389.5" stroke="#000" stroke-width="1.1"/>
<line x1="429.3" y1="339.6" x2="429.3" y2="383.3" stroke="#000" stroke-width="1.1"/>
<line x1="406.1" y1="339.6" x2="429.8" y2="339.6" stroke="#000" stroke-width="1.8"/>
<path d="M417.3 334.8 L419.9 337.4 L418.1 337.4 L418.1 339.3 L416.5 339.3 L416.5 337.4 L414.7 337.4 Z" fill="#000"/>
<line x1="414.6" y1="347.6" x2="414.6" y2="352.1" stroke="#000" stroke-width="1.1"/>
<line x1="425.4" y1="347.6" x2="425.4" y2="381.9" stroke="#000" stroke-width="1.1"/>
<line x1="414.1" y1="347.6" x2="425.9" y2="347.6" stroke="#000" stroke-width="1.8"/>
<path d="M420.7 342.8 L423.3 345.4 L421.5 345.4 L421.5 347.3 L419.9 347.3 L419.9 345.4 L418.1 345.4 Z" fill="#000"/>
<line x1="446.7" y1="309.2" x2="446.7" y2="344.6" stroke="#000" stroke-width="1.1"/>
<line x1="468.5" y1="309.2" x2="468.5" y2="353.6" stroke="#000" stroke-width="1.1"/>
<line x1="446.2" y1="309.2" x2="469" y2="309.2" stroke="#000" stroke-width="1.8"/>
<path d="M457.4 304.4 L460 307 L458.2 307 L458.2 308.9 L456.6 308.9 L456.6 307 L454.8 307 Z" fill="#000"/>
<line x1="454.1" y1="317.3" x2="454.1" y2="321.6" stroke="#000" stroke-width="1.1"/>
<line x1="465.2" y1="317.3" x2="465.2" y2="351.5" stroke="#000" stroke-width="1.1"/>
<line x1="453.6" y1="317.3" x2="465.7" y2="317.3" stroke="#000" stroke-width="1.8"/>
<path d="M460.4 312.5 L463 315.1 L461.2 315.1 L461.2 317 L459.6 317 L459.6 315.1 L457.8 315.1 Z" fill="#000"/>
<line x1="486.1" y1="278.1" x2="486.1" y2="313.5" stroke="#000" stroke-width="1.1"/>
<line x1="507.1" y1="278.1" x2="507.1" y2="322.5" stroke="#000" stroke-width="1.1"/>
<line x1="485.6" y1="278.1" x2="507.6" y2="278.1" stroke="#000" stroke-width="1.8"/>
<path d="M496.3 273.3 L498.9 275.9 L497.1 275.9 L497.1 277.8 L495.5 277.8 L495.5 275.9 L493.7 275.9 Z" fill="#000"/>
<line x1="490.5" y1="286.3" x2="490.5" y2="291.5" stroke="#000" stroke-width="1.1"/>
<line x1="502.2" y1="286.3" x2="502.2" y2="321" stroke="#000" stroke-width="1.1"/>
<line x1="490" y1="286.3" x2="502.7" y2="286.3" stroke="#000" stroke-width="1.8"/>
<path d="M497.6 281.5 L500.2 284.1 L498.4 284.1 L498.4 286 L496.8 286 L496.8 284.1 L495 284.1 Z" fill="#000"/>
</svg></body></html>
